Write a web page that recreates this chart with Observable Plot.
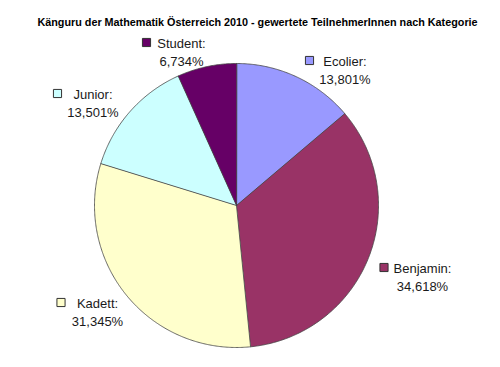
<!DOCTYPE html>
<html>
<head>
<meta charset="utf-8">
<script src="https://cdn.jsdelivr.net/npm/d3@7"></script>
<script src="https://cdn.jsdelivr.net/npm/@observablehq/plot@0.6"></script>
<style>
  html, body { margin: 0; padding: 0; background: #fff; }
  #chart svg { display: block; }
</style>
</head>
<body>
<div id="chart"></div>
<script>
// ---- data ----
const title = "Känguru der Mathematik Österreich 2010 - gewertete TeilnehmerInnen nach Kategorie";
const categories = ["Ecolier", "Benjamin", "Kadett", "Junior", "Student"];
const shares = [13.801, 34.618, 31.345, 13.501, 6.734];

// ---- styles ----
const colors = ["#9999FF", "#993366", "#FFFFCC", "#CCFFFF", "#660066"];

// ---- layout (pixel positions of the labels) ----
const W = 500, H = 367;
const CX = 236, CY = 205, R = 142;
const labelCenterX = [344.5, 422, 97, 92.5, 181];
const labelLine1Y = [60, 267, 302, 93, 42];
const keyX = [309, 383.5, 60.5, 57, 146];
const titlePos = [257, 22];

const px = x => (x - CX) / R;
const py = y => (CY - y) / R;

// ---- pie geometry via d3.pie ----
const pie = d3.pie().sort(null).value(d => d)(shares);
const features = pie.map((a, i) => {
  const ring = [[0, 0]];
  const n = Math.max(2, Math.ceil((a.endAngle - a.startAngle) / (Math.PI / 360)));
  for (let k = 0; k <= n; k++) {
    const t = a.startAngle + (a.endAngle - a.startAngle) * k / n;
    ring.push([Math.sin(t), Math.cos(t)]);
  }
  ring.push([0, 0]);
  return {type: "Feature", properties: {name: categories[i]}, geometry: {type: "Polygon", coordinates: [ring]}};
});

const labels = categories.map((c, i) => ({
  name: c,
  text: c + ":\n" + shares[i].toFixed(3).replace(".", ",") + "%",
  x: px(labelCenterX[i]),
  y: py(labelLine1Y[i] + 9),
  kx: px(keyX[i]),
  ky: py(labelLine1Y[i])
}));

const chart = Plot.plot({
  width: W,
  height: H,
  marginLeft: CX - R,
  marginRight: W - (CX + R),
  marginTop: CY - R,
  marginBottom: H - (CY + R),
  style: {fontFamily: "'Liberation Sans', Arial, sans-serif", background: "#fff"},
  projection: {
    type: "reflect-y",
    clip: false,
    domain: {type: "MultiPoint", coordinates: [[-1, -1], [1, 1]]}
  },
  color: {domain: categories, range: colors},
  marks: [
    Plot.geo(features, {fill: d => d.properties.name, stroke: "#444", strokeWidth: 0.8, strokeLinejoin: "round"}),
    Plot.dot(labels, {x: "kx", y: "ky", symbol: "square", r: 4.6, fill: "name", stroke: "#333", strokeWidth: 1}),
    Plot.text(labels, {x: "x", y: "y", text: "text", textAnchor: "middle", lineAnchor: "middle", lineHeight: 1.4, fontSize: 13, fill: "#1a1a1a"}),
    Plot.text([title], {x: () => px(titlePos[0]), y: () => py(titlePos[1]), text: d => d, fontSize: 10.8, fontWeight: "bold", fill: "#000"})
  ]
});
document.getElementById("chart").append(chart);
</script>
</body>
</html>
